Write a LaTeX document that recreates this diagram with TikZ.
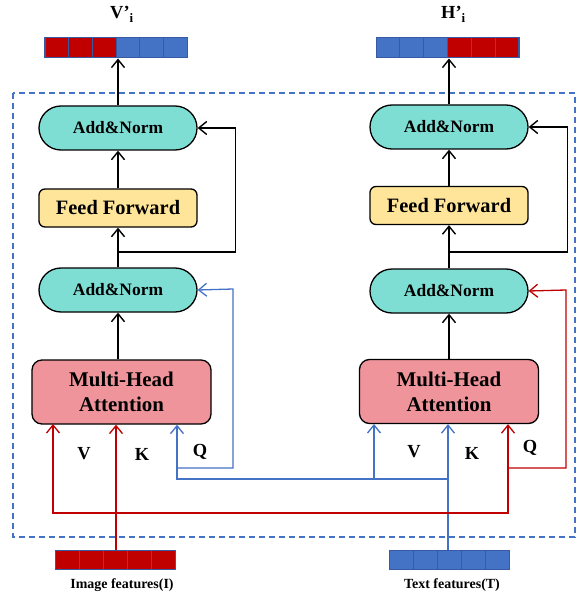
\documentclass[tikz,border=0pt]{standalone}
\usepackage{fontspec}
\setmainfont{Liberation Serif}
\usetikzlibrary{arrows.meta,calc}
\definecolor{cteal}{RGB}{127,222,212}
\definecolor{cyellow}{RGB}{255,229,153}
\definecolor{cpink}{RGB}{240,148,156}
\definecolor{cred}{RGB}{192,0,0}
\definecolor{cblue}{RGB}{68,114,196}
\definecolor{cborder}{RGB}{55,90,165}
\begin{document}
\begin{tikzpicture}[x=1bp,y=-1bp,
  box/.style={draw=black, line width=1.3bp, align=center, inner sep=0pt},
  addnorm/.style={box, fill=cteal, rounded corners=22bp, minimum width=158bp, minimum height=44bp, font=\bfseries\fontsize{17.5}{20}\selectfont},
  ffbox/.style={box, fill=cyellow, rounded corners=6bp, minimum width=158bp, minimum height=38bp, font=\bfseries\fontsize{20.5}{22}\selectfont},
  mhabox/.style={box, fill=cpink, rounded corners=10bp, minimum width=179bp, minimum height=64bp, font=\bfseries\fontsize{21}{25}\selectfont},
  arr/.style={-{Straight Barb[length=8bp,width=13bp]}, line width=1.4bp},
  carr/.style={arr, line width=1.3bp},
  vecbox/.style={draw=cborder, line width=1bp, inner sep=0pt, minimum height=20bp},
  lbl/.style={font=\bfseries\fontsize{18.5}{20}\selectfont, inner sep=0pt},
  captxt/.style={font=\bfseries\fontsize{14}{15}\selectfont, inner sep=0pt}
]
\useasboundingbox (0,0) rectangle (577,599);

% dashed frame
\draw[cblue, line width=1.2bp, dash pattern=on 6bp off 4bp] (13,93) rectangle (575,537);

% top vectors
\foreach \i/\c in {0/cred,1/cred,2/cred,3/cblue,4/cblue,5/cblue}
  \filldraw[fill=\c, draw=cborder, line width=1bp] (45+\i*23.67,38) rectangle ++(23.67,20);
\node[vecbox, minimum width=142bp] (vecL) at (116,48) {};
\foreach \i/\c in {0/cblue,1/cblue,2/cblue,3/cred,4/cred,5/cred}
  \filldraw[fill=\c, draw=cborder, line width=1bp] (376+\i*23.83,38) rectangle ++(23.83,20);
\node[vecbox, minimum width=143bp] (vecR) at (447.5,48) {};

\node[lbl, anchor=base west] (tL) at (110,19) {V’\raisebox{-4bp}{\fontsize{13}{13}\selectfont i}};
\node[lbl, anchor=base west] (tR) at (441,19) {H’\raisebox{-4bp}{\fontsize{13}{13}\selectfont i}};

% bottom vectors
\foreach \i in {0,...,4}
  \filldraw[fill=cred, draw=cborder, line width=1bp] (55+\i*24,550) rectangle ++(24,19);
\node[vecbox, minimum width=120bp, minimum height=19bp] (imf) at (115,559.5) {};
\foreach \i in {0,...,4}
  \filldraw[fill=cblue, draw=cborder, line width=1bp] (389+\i*24,550) rectangle ++(24,19);
\node[vecbox, minimum width=120bp, minimum height=19bp] (txf) at (449,559.5) {};
\node[captxt] (imfl) at (122,585) {Image features(I)};
\node[captxt] (txfl) at (452,585) {Text features(T)};

% left column
\node[addnorm] (AN1L) at (118,128) {Add\&Norm};
\node[ffbox] (FFL) at (118,208) {Feed Forward};
\node[addnorm] (AN2L) at (118,290) {Add\&Norm};
\node[mhabox] (MHAL) at (121.5,392) {Multi-Head\\Attention};

% right column
\node[addnorm] (AN1R) at (449,127) {Add\&Norm};
\node[ffbox] (FFR) at (449,205.5) {Feed Forward};
\node[addnorm] (AN2R) at (449,291) {Add\&Norm};
\node[mhabox] (MHAR) at (449,391.5) {Multi-Head\\Attention};

% labels
\node[lbl] (vL) at (84,454) {V};
\node[lbl] (kL) at (142,454) {K};
\node[lbl] (qL) at (200,452) {Q};
\node[lbl] (vR) at (414,452) {V};
\node[lbl] (kR) at (472,453) {K};
\node[lbl] (qR) at (530,448) {Q};

% black flow left
\draw[arr] (MHAL.north -| AN2L.south) -- (AN2L.south);
\draw[arr] (AN2L.north) -- (FFL.south);
\draw[arr] (FFL.north) -- (AN1L.south);
\draw[arr] (AN1L.north) -- (AN1L.north |- vecL.south);
\coordinate (rL) at (118,252);
\draw[arr] (rL) -| ([xshift=38bp]AN1L.east) -- (AN1L.east);

% black flow right
\draw[arr] (MHAR.north) -- (AN2R.south);
\draw[arr] (AN2R.north) -- (FFR.south);
\draw[arr] (FFR.north) -- (AN1R.south);
\draw[arr] (AN1R.north) -- (AN1R.north |- vecR.south);
\coordinate (rR) at (449,252);
\draw[arr] (rR) -| ([xshift=39bp]AN1R.east) -- (AN1R.east);

% blue (text features)
\coordinate (jT) at (448,479);
\coordinate (jQ) at (177,468);
\draw[carr, cblue] (txf.north -| jT) -- (jT |- MHAR.south);
\draw[carr, cblue] (jT) -| (jQ) -- (jQ |- MHAL.south);
\draw[carr, cblue] (374,479) -- (374,424);
\draw[carr, cblue] (jQ) -| (233,289) -- (AN2L.east);

% red (image features)
\coordinate (jI) at (116,513);
\coordinate (jR) at (508,468);
\draw[carr, cred] (imf.north -| jI) -- (jI |- MHAL.south);
\draw[carr, cred] (jI) -| (53,424);
\draw[carr, cred] (jI) -| (jR) -- (jR |- MHAR.south);
\draw[carr, cred] (jR) -| (566,290) -- (AN2R.east);
\end{tikzpicture}
\end{document}
